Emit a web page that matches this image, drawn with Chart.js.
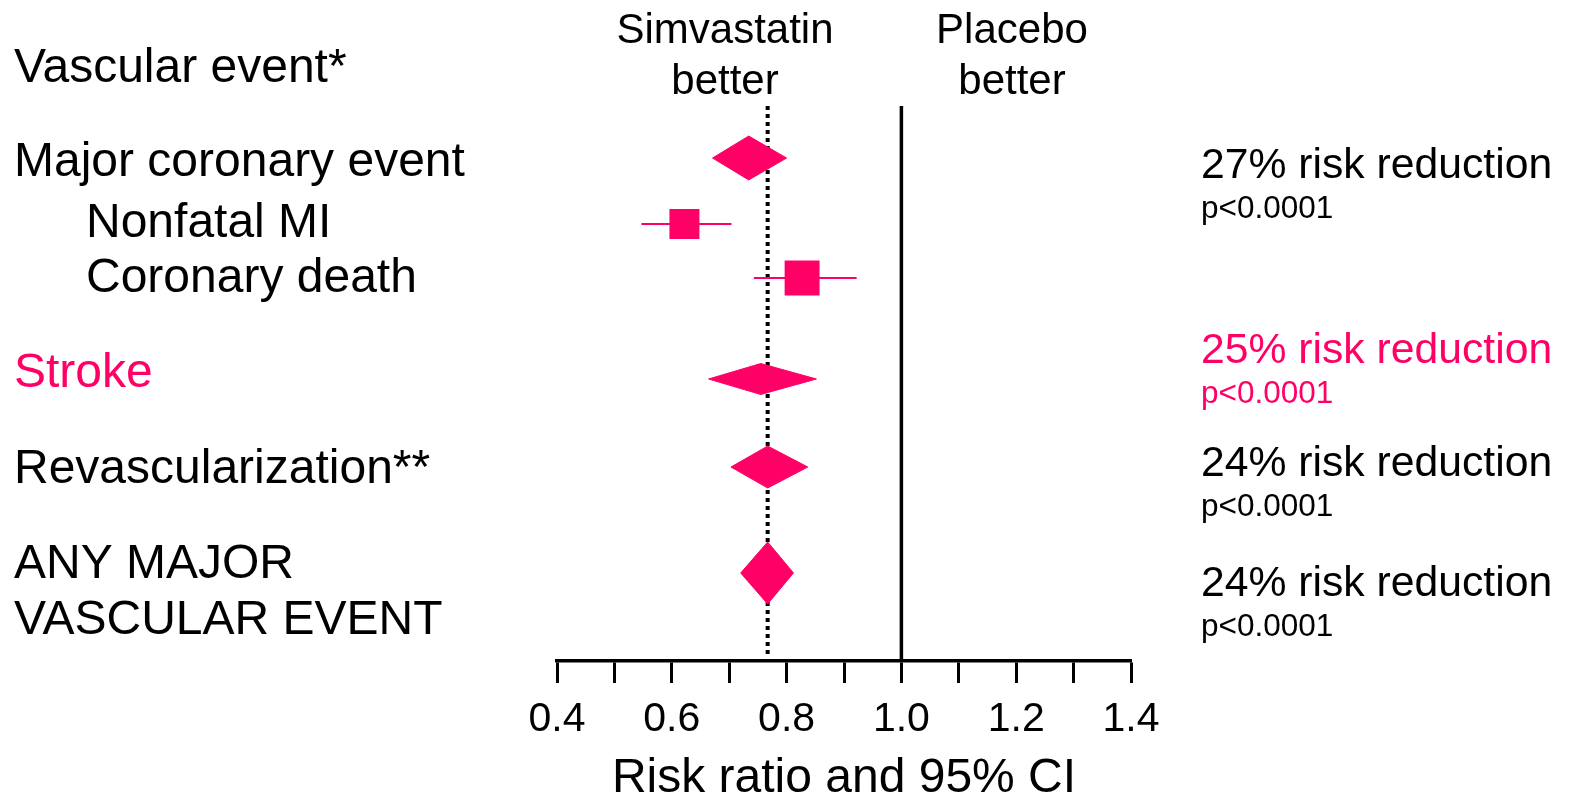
<!DOCTYPE html>
<html>
<head>
<meta charset="utf-8">
<script src="https://cdn.jsdelivr.net/npm/chart.js@4.4.1/dist/chart.umd.min.js"></script>
<style>
  html, body { margin: 0; padding: 0; background: #ffffff; }
  #wrap { width: 1570px; height: 800px; position: relative; }
</style>
</head>
<body>
<div id="wrap"><canvas id="c" width="1570" height="800"></canvas></div>
<script>
// ---------- data ----------
const categories   = ['Major coronary event', 'Nonfatal MI', 'Coronary death', 'Stroke', 'Revascularization**', 'ANY MAJOR VASCULAR EVENT'];
const riskRatio    = [0.734, 0.622, 0.827, 0.755, 0.767, 0.767];
const ciLower      = [0.671, 0.547, 0.743, 0.664, 0.703, 0.720];
const ciUpper      = [0.800, 0.704, 0.922, 0.852, 0.837, 0.812];
const markerType   = ['diamond', 'square', 'square', 'diamond', 'diamond', 'diamond'];
const summaryText  = ['27% risk reduction', null, null, '25% risk reduction', '24% risk reduction', '24% risk reduction'];
const pValueText   = ['p<0.0001', null, null, 'p<0.0001', 'p<0.0001', 'p<0.0001'];
const xTicks       = [0.4, 0.6, 0.8, 1.0, 1.2, 1.4];
const overallIndex = 5;

// ---------- layout / style (not data) ----------
const PINK = '#FF0066';
const FONT = '"Liberation Sans", Arial, Helvetica, sans-serif';
const rowPos      = [9.37, 21.26, 30.99, 49.19, 65.05, 84.14];   // vertical slot of each row (0 = top, 100 = axis)
const diamondHalf = [3.96, 0, 0, 2.79, 3.78, 5.59];             // diamond half height (y units)
const squareRadius = [0, 21.2, 24.7, 0, 0, 0];                   // square marker radius (px)

const datasets = [];

// reference line at 1.0 (no effect)
datasets.push({
  data: [{x: 1.0, y: 0}, {x: 1.0, y: 100}],
  showLine: true, borderColor: '#000', borderWidth: 3.5, pointRadius: 0, order: 5
});
// dotted line at overall estimate
datasets.push({
  data: [{x: riskRatio[overallIndex], y: 0}, {x: riskRatio[overallIndex], y: 99.3}],
  showLine: true, borderColor: '#000', borderWidth: 4, borderDash: [4, 4], pointRadius: 0, order: 6
});

categories.forEach((cat, i) => {
  if (markerType[i] === 'diamond') {
    const y = rowPos[i], h = diamondHalf[i];
    datasets.push({
      label: cat,
      data: [
        {x: ciLower[i], y: y},
        {x: riskRatio[i], y: y - h},
        {x: ciUpper[i], y: y},
        {x: riskRatio[i], y: y + h},
        {x: ciLower[i], y: y}
      ],
      showLine: true, fill: 'shape', backgroundColor: PINK, borderColor: PINK,
      borderWidth: 1, pointRadius: 0, tension: 0, order: 1
    });
  } else {
    datasets.push({
      label: cat + ' CI',
      data: [{x: ciLower[i], y: rowPos[i]}, {x: ciUpper[i], y: rowPos[i]}],
      showLine: true, borderColor: PINK, borderWidth: 2, pointRadius: 0, order: 2
    });
    datasets.push({
      label: cat,
      data: [{x: riskRatio[i], y: rowPos[i]}],
      showLine: false, pointStyle: 'rect', pointRadius: squareRadius[i],
      backgroundColor: PINK, borderColor: PINK, borderWidth: 0, order: 1
    });
  }
});

// ---------- text plugin ----------
const textPlugin = {
  id: 'forestText',
  afterDraw(chart) {
    const ctx = chart.ctx;
    ctx.save();
    ctx.textBaseline = 'alphabetic';
    const put = (txt, x, y, size, color, align) => {
      ctx.font = size + 'px ' + FONT;
      ctx.fillStyle = color || '#000';
      ctx.textAlign = align || 'left';
      ctx.fillText(txt, x, y);
    };
    // header over axis
    put('Simvastatin', 725, 43, 42, '#000', 'center');
    put('better', 725, 94, 42, '#000', 'center');
    put('Placebo', 1012, 43, 42, '#000', 'center');
    put('better', 1012, 94, 42, '#000', 'center');
    // left labels
    put('Vascular event*', 14, 82, 48);
    put('Major coronary event', 14, 176, 48);
    put('Nonfatal MI', 86, 237, 48);
    put('Coronary death', 86, 292, 48);
    put('Stroke', 14, 387, 48, PINK);
    put('Revascularization**', 14, 483, 48);
    put('ANY MAJOR', 14, 578, 48);
    put('VASCULAR EVENT', 14, 634, 48);
    // right summaries
    const sumBase = [178, null, null, 363, 476, 596];
    categories.forEach((c, i) => {
      if (!summaryText[i]) return;
      const col = (i === 3) ? PINK : '#000';
      put(summaryText[i], 1201, sumBase[i], 42.7, col);
      put(pValueText[i], 1201, sumBase[i] + 40, 31.5, col);
    });
    ctx.restore();
  }
};

new Chart(document.getElementById('c'), {
  type: 'scatter',
  data: { datasets },
  plugins: [textPlugin],
  options: {
    responsive: false,
    animation: false,
    devicePixelRatio: 1,
    layout: { padding: { left: 557, right: 439, top: 106, bottom: 0 } },
    plugins: { legend: { display: false }, tooltip: { enabled: false } },
    scales: {
      x: {
        type: 'linear', position: 'bottom',
        min: xTicks[0], max: xTicks[xTicks.length - 1],
        afterFit(scale) { scale.height = 139; },
        afterBuildTicks(scale) {
          const t = [];
          for (let k = 0; k <= 10; k++) t.push({ value: Math.round((xTicks[0] + k * 0.1) * 10) / 10 });
          scale.ticks = t;
        },
        ticks: {
          autoSkip: false, maxRotation: 0, padding: 12, color: '#000',
          font: { family: FONT, size: 41 },
          callback(v) {
            const hit = xTicks.find(t => Math.abs(t - v) < 1e-6);
            return hit !== undefined ? hit.toFixed(1) : '';
          }
        },
        grid: { display: true, drawOnChartArea: false, drawTicks: true, tickLength: 22, tickWidth: 3, tickColor: '#000' },
        border: { display: true, color: '#000', width: 3.5 },
        title: { display: true, text: 'Risk ratio and 95% CI', color: '#000',
                 font: { family: FONT, size: 48, lineHeight: 0.9 }, padding: { top: 0, bottom: 0 } }
      },
      y: { type: 'linear', min: 0, max: 100, reverse: true, display: false }
    }
  }
});
</script>
</body>
</html>
